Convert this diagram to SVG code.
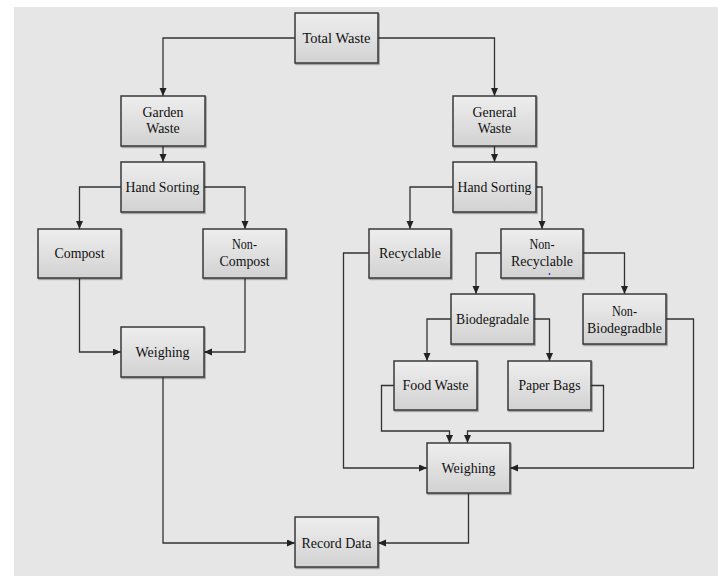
<svg xmlns="http://www.w3.org/2000/svg" width="718" height="576" viewBox="0 0 718 576">
<style>
.bx{fill:url(#g);stroke:#383838;stroke-width:1.5;filter:url(#s)}
.t{font-family:"Liberation Serif","Times New Roman",serif;font-size:15px;fill:#111;text-anchor:middle}
.c{fill:none;stroke:#333;stroke-width:1.3;marker-end:url(#a)}
</style>
<defs>
<linearGradient id="g" x1="0" y1="0" x2="0" y2="1"><stop offset="0" stop-color="#eeeeee"/><stop offset="1" stop-color="#d2d2d2"/></linearGradient>
<filter id="s" x="-10%" y="-10%" width="120%" height="125%"><feDropShadow dx="1" dy="1.2" stdDeviation="0.6" flood-color="#000" flood-opacity="0.35"/></filter>
<marker id="a" markerUnits="userSpaceOnUse" markerWidth="9" markerHeight="8" refX="8" refY="3.5" orient="auto"><path d="M0,0 L8,3.5 L0,7 z" fill="#222"/></marker>
</defs>
<rect x="0" y="0" width="718" height="576" fill="#ffffff"/>
<rect x="14" y="7" width="704" height="569" fill="#e6e6e6"/>
<g id="connectors">
<path class="c" d="M295,38 H163 V96"/>
<path class="c" d="M378,38 H494.5 V96"/>
<path class="c" d="M163,146 V162"/>
<path class="c" d="M494.5,146 V162"/>
<path class="c" d="M121,187 H79.5 V229"/>
<path class="c" d="M204,187 H245 V229"/>
<path class="c" d="M79.5,278 V352 H121"/>
<path class="c" d="M245,278 V352 H204"/>
<path class="c" d="M163,377 V543 H295"/>
<path class="c" d="M453,187 H410 V229"/>
<path class="c" d="M536,187 H542 V229"/>
<path class="c" d="M369,253 H343.5 V468 H427"/>
<path class="c" d="M501,253 H476 V294"/>
<path class="c" d="M583,253 H624.5 V294"/>
<path class="c" d="M451,319 H427 V361"/>
<path class="c" d="M534,319 H549.5 V361"/>
<path class="c" d="M394,385.5 H381.5 V431 H449.5 V443"/>
<path class="c" d="M591,385.5 H603.5 V431 H467.5 V443"/>
<path class="c" d="M666,319 H693.5 V468 H510"/>
<path class="c" d="M468.5,493 V543 H378"/>
</g>
<g id="total-waste"><rect class="bx" x="295" y="13" width="83" height="50"/><text class="t" x="336.5" y="43" textLength="68" lengthAdjust="spacingAndGlyphs">Total Waste</text></g>
<g id="garden-waste"><rect class="bx" x="121" y="96" width="84" height="50"/><text class="t" x="163" y="117" textLength="41" lengthAdjust="spacingAndGlyphs">Garden</text><text class="t" x="163" y="133" textLength="33.5" lengthAdjust="spacingAndGlyphs">Waste</text></g>
<g id="hand-sorting-left"><rect class="bx" x="121" y="162" width="83" height="50"/><text class="t" x="162.5" y="191.5" textLength="74" lengthAdjust="spacingAndGlyphs">Hand Sorting</text></g>
<g id="compost"><rect class="bx" x="38" y="229" width="83" height="49"/><text class="t" x="79.5" y="258" textLength="50" lengthAdjust="spacingAndGlyphs">Compost</text></g>
<g id="non-compost"><rect class="bx" x="203" y="229" width="83" height="49"/><text class="t" x="244.5" y="249" textLength="25" lengthAdjust="spacingAndGlyphs">Non-</text><text class="t" x="244.5" y="266" textLength="50" lengthAdjust="spacingAndGlyphs">Compost</text></g>
<g id="weighing-left"><rect class="bx" x="121" y="327" width="83" height="50"/><text class="t" x="162.5" y="357" textLength="54" lengthAdjust="spacingAndGlyphs">Weighing</text></g>
<g id="record-data"><rect class="bx" x="295" y="517" width="83" height="50"/><text class="t" x="336.5" y="548" textLength="70" lengthAdjust="spacingAndGlyphs">Record Data</text></g>
<g id="general-waste"><rect class="bx" x="453" y="96" width="83" height="50"/><text class="t" x="494.5" y="117" textLength="44" lengthAdjust="spacingAndGlyphs">General</text><text class="t" x="494.5" y="133" textLength="33.5" lengthAdjust="spacingAndGlyphs">Waste</text></g>
<g id="hand-sorting-right"><rect class="bx" x="453" y="162" width="83" height="50"/><text class="t" x="494.5" y="191.5" textLength="74" lengthAdjust="spacingAndGlyphs">Hand Sorting</text></g>
<g id="recyclable"><rect class="bx" x="369" y="229" width="82" height="49"/><text class="t" x="410" y="258" textLength="62" lengthAdjust="spacingAndGlyphs">Recyclable</text></g>
<g id="non-recyclable"><rect class="bx" x="501" y="229" width="82" height="49"/><text class="t" x="542" y="249" textLength="25" lengthAdjust="spacingAndGlyphs">Non-</text><text class="t" x="542" y="266" textLength="62" lengthAdjust="spacingAndGlyphs">Recyclable</text><circle cx="549.5" cy="274" r="0.9" fill="#2b3bd6"/></g>
<g id="biodegradale"><rect class="bx" x="451" y="294" width="83" height="50"/><text class="t" x="492.5" y="323.5" textLength="73" lengthAdjust="spacingAndGlyphs">Biodegradale</text></g>
<g id="non-biodegradble"><rect class="bx" x="583" y="294" width="83" height="50"/><text class="t" x="624.5" y="315.5" textLength="25" lengthAdjust="spacingAndGlyphs">Non-</text><text class="t" x="624.5" y="332.5" textLength="75" lengthAdjust="spacingAndGlyphs">Biodegradble</text></g>
<g id="food-waste"><rect class="bx" x="394" y="361" width="83" height="49"/><text class="t" x="435.5" y="389.5" textLength="66" lengthAdjust="spacingAndGlyphs">Food Waste</text></g>
<g id="paper-bags"><rect class="bx" x="508" y="361" width="83" height="49"/><text class="t" x="549.5" y="389.5" textLength="62" lengthAdjust="spacingAndGlyphs">Paper Bags</text></g>
<g id="weighing-right"><rect class="bx" x="427" y="443" width="83" height="50"/><text class="t" x="468.5" y="473" textLength="54" lengthAdjust="spacingAndGlyphs">Weighing</text></g>
</svg>
